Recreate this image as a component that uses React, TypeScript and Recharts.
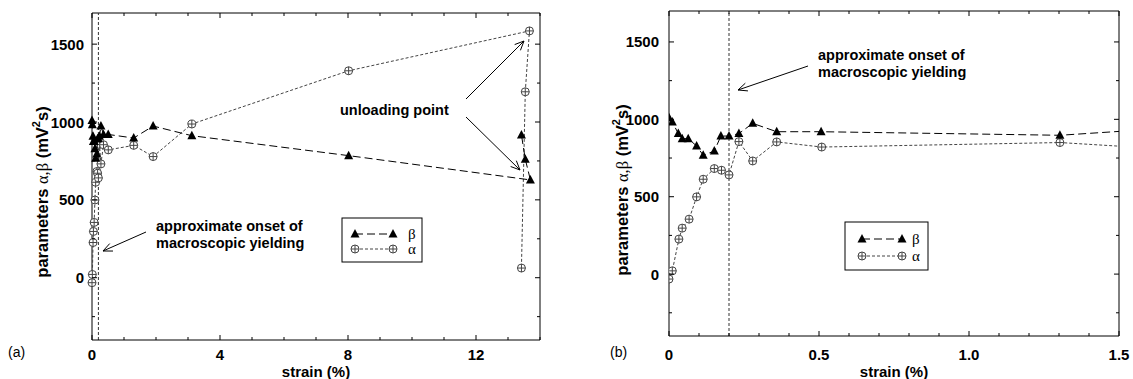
import React from 'react'
import { ScatterChart, Scatter, XAxis, YAxis, ReferenceLine } from 'recharts'

// beta (triangles) and alpha (crossed circles), in measurement order
const betaStrain = [0, 0.011, 0.031, 0.044, 0.064, 0.092, 0.114, 0.151, 0.173, 0.2, 0.233, 0.279, 0.359, 0.507, 1.303, 1.91, 3.12, 8.02, 13.7, 13.54, 13.42]
const betaValue = [1010, 983, 908, 875, 875, 828, 768, 795, 892, 892, 908, 974, 920, 920, 897, 974, 912, 784, 628, 761, 917]
const alphaStrain = [0, 0.011, 0.033, 0.044, 0.067, 0.092, 0.114, 0.151, 0.175, 0.2, 0.233, 0.279, 0.359, 0.509, 1.303, 1.91, 3.12, 8.02, 13.67, 13.54, 13.42]
const alphaValue = [-32, 21, 226, 297, 355, 499, 613, 682, 671, 641, 856, 731, 854, 821, 850, 778, 987, 1329, 1585, 1194, 62]

const yDomain = [-400, 1700]
const yTicks = [-250, 0, 250, 500, 750, 1000, 1250, 1500]
const yLabels = [0, 500, 1000, 1500]

const xTicksA = [0, 1, 2, 3, 4, 5, 6, 7, 8, 9, 10, 11, 12, 13, 14]
const xLabelsA = [0, 4, 8, 12]
const xTicksB = [0, 0.1, 0.2, 0.3, 0.4, 0.5, 0.6, 0.7, 0.8, 0.9, 1.0, 1.1, 1.2, 1.3, 1.4, 1.5]
const xLabelsB = [0, 0.5, 1.0, 1.5]
const onsetStrain = 0.2

const betaData = betaStrain.map((x, i) => ({ x, y: betaValue[i] }))
const alphaData = alphaStrain.map((x, i) => ({ x, y: alphaValue[i] }))

const SANS = '"Liberation Sans", Arial, sans-serif'
const SERIF = '"Liberation Serif", "Times New Roman", serif'

const Triangle = (p: any) => {
  const { cx, cy } = p
  if (cx == null || cy == null) return null
  return <polygon points={`${cx},${cy - 5} ${cx - 4.5},${cy + 3.5} ${cx + 4.5},${cy + 3.5}`} fill="#000" />
}

const CrossCircle = (p: any) => {
  const { cx, cy } = p
  if (cx == null || cy == null) return null
  return (
    <g>
      <circle cx={cx} cy={cy} r={4} fill="#fff" stroke="#444" strokeWidth={1} />
      <line x1={cx - 4} y1={cy} x2={cx + 4} y2={cy} stroke="#444" strokeWidth={1} />
      <line x1={cx} y1={cy - 4} x2={cx} y2={cy + 4} stroke="#444" strokeWidth={1} />
    </g>
  )
}

const isIn = (list: number[], v: number) => list.some((l) => Math.abs(l - v) < 1e-6)

const AXIS_W = 60
const AXIS_H = 30

interface PanelProps {
  left: number
  width: number
  plot: { top: number; right: number; bottom: number; left: number }
  xDomain: number[]
  xTicks: number[]
  xLabels: number[]
  fmt: (v: number) => string
  clip: boolean
  yLabelGap: number
  xLabelY: number
}

function Panel({ left, width, plot, xDomain, xTicks, xLabels, fmt, clip, yLabelGap, xLabelY }: PanelProps) {
  const height = 379
  const top = plot.top
  const bottom = height - plot.bottom
  const plotLeft = plot.left
  const plotRight = width - plot.right
  const margin = { top: plot.top, right: plot.right, bottom: plot.bottom - AXIS_H, left: plot.left - AXIS_W }

  const XTick = (p: any) => {
    const x = p.x
    const v = p.payload.value
    const major = isIn(xLabels, v)
    const len = major ? 5 : 3
    return (
      <g>
        <line x1={x} y1={bottom} x2={x} y2={bottom - len} stroke="#000" />
        <line x1={x} y1={top} x2={x} y2={top + len} stroke="#000" />
        {major && (
          <text x={x} y={xLabelY} textAnchor="middle" dominantBaseline="central" fontFamily={SANS} fontWeight="bold" fontSize={15} fill="#000">
            {fmt(v)}
          </text>
        )}
      </g>
    )
  }

  const YTick = (p: any) => {
    const y = p.y
    const v = p.payload.value
    const major = isIn(yLabels, v)
    const len = major ? 5 : 3
    return (
      <g>
        <line x1={plotLeft} y1={y} x2={plotLeft + len} y2={y} stroke="#000" />
        <line x1={plotRight} y1={y} x2={plotRight - len} y2={y} stroke="#000" />
        {major && (
          <text x={plotLeft - yLabelGap} y={y} textAnchor="end" dominantBaseline="central" fontFamily={SANS} fontWeight="bold" fontSize={15} fill="#000">
            {v}
          </text>
        )}
      </g>
    )
  }

  return (
    <div style={{ position: 'absolute', left, top: 0 }}>
      <ScatterChart width={width} height={height} margin={margin}>
        <XAxis
          type="number"
          dataKey="x"
          domain={xDomain}
          ticks={xTicks}
          interval={0}
          tick={XTick}
          tickLine={false}
          axisLine={{ stroke: '#000' }}
          height={AXIS_H}
          allowDataOverflow={clip}
        />
        <YAxis
          type="number"
          dataKey="y"
          domain={yDomain}
          ticks={yTicks}
          interval={0}
          tick={YTick}
          tickLine={false}
          axisLine={{ stroke: '#000' }}
          width={AXIS_W}
        />
        <ReferenceLine x={xDomain[1]} stroke="#000" />
        <ReferenceLine y={yDomain[1]} stroke="#000" />
        <ReferenceLine x={onsetStrain} stroke="#333" strokeDasharray="3 2" />
        <Scatter
          data={alphaData}
          shape={CrossCircle}
          line={{ stroke: '#444', strokeDasharray: '3 2', strokeWidth: 1 }}
          isAnimationActive={false}
        />
        <Scatter
          data={betaData}
          shape={Triangle}
          line={{ stroke: '#000', strokeDasharray: '8 4', strokeWidth: 1 }}
          isAnimationActive={false}
        />
      </ScatterChart>
    </div>
  )
}

function Arrow({ x1, y1, x2, y2 }: { x1: number; y1: number; x2: number; y2: number }) {
  const a = Math.atan2(y2 - y1, x2 - x1)
  const h = 10
  const s = 0.42
  return (
    <g stroke="#000" strokeWidth={1} fill="none">
      <line x1={x1} y1={y1} x2={x2} y2={y2} />
      <line x1={x2} y1={y2} x2={x2 - h * Math.cos(a - s)} y2={y2 - h * Math.sin(a - s)} />
      <line x1={x2} y1={y2} x2={x2 - h * Math.cos(a + s)} y2={y2 - h * Math.sin(a + s)} />
    </g>
  )
}

function YLabel({ x, y }: { x: number; y: number }) {
  return (
    <text transform={`translate(${x},${y}) rotate(-90)`} textAnchor="middle" fontFamily={SANS} fontWeight="bold" fontSize={16.5} fill="#000" dominantBaseline="central">
      parameters <tspan fontFamily={SERIF} fontWeight="normal">α,β</tspan> (mV
      <tspan dy={-6} fontSize={11}>2</tspan>
      <tspan dy={6}>s)</tspan>
    </text>
  )
}

function LegendBox({ x, y, w, h, lx1, lx2, tx, r1, r2 }: any) {
  return (
    <g>
      <rect x={x} y={y} width={w} height={h} fill="#fff" stroke="#000" strokeWidth={1} />
      <line x1={lx1} y1={r1} x2={lx2} y2={r1} stroke="#000" strokeDasharray="8 4" />
      <Triangle cx={lx1} cy={r1} />
      <Triangle cx={lx2} cy={r1} />
      <text x={tx} y={r1} dominantBaseline="central" fontFamily={SERIF} fontSize={15}>β</text>
      <line x1={lx1} y1={r2} x2={lx2} y2={r2} stroke="#444" strokeDasharray="3 2" />
      <CrossCircle cx={lx1} cy={r2} />
      <CrossCircle cx={lx2} cy={r2} />
      <text x={tx} y={r2} dominantBaseline="central" fontFamily={SERIF} fontSize={15}>α</text>
    </g>
  )
}

const boldText = { fontFamily: SANS, fontWeight: 'bold' as const, fontSize: 14.5, fill: '#000' }

export default function App() {
  return (
    <div style={{ position: 'absolute', left: 0, top: 0, width: 1133, height: 379, background: '#fff' }}>
      <Panel
        left={0}
        width={560}
        plot={{ top: 13, right: 20, bottom: 39, left: 92 }}
        xDomain={[0, 14]}
        xTicks={xTicksA}
        xLabels={xLabelsA}
        fmt={(v) => String(v)}
        clip={false}
        yLabelGap={8}
        xLabelY={354}
      />
      <Panel
        left={560}
        width={573}
        plot={{ top: 11, right: 14, bottom: 43, left: 109 }}
        xDomain={[0, 1.5]}
        xTicks={xTicksB}
        xLabels={xLabelsB}
        fmt={(v) => (v === 0 ? '0' : v.toFixed(1))}
        clip={true}
        yLabelGap={10}
        xLabelY={354}
      />
      <svg width={1133} height={379} style={{ position: 'absolute', left: 0, top: 0, pointerEvents: 'none' }}>
        <YLabel x={42} y={192} />
        <YLabel x={622} y={190} />
        <text x={316} y={371} textAnchor="middle" dominantBaseline="central" fontFamily={SANS} fontWeight="bold" fontSize={15}>strain (%)</text>
        <text x={894} y={371} textAnchor="middle" dominantBaseline="central" fontFamily={SANS} fontWeight="bold" fontSize={15}>strain (%)</text>
        <text x={8} y={352} dominantBaseline="central" fontFamily={SANS} fontSize={14}>(a)</text>
        <text x={610} y={352} dominantBaseline="central" fontFamily={SANS} fontSize={14}>(b)</text>

        <text x={340} y={110} dominantBaseline="central" {...boldText}>unloading point</text>
        <Arrow x1={466} y1={99} x2={524} y2={41} />
        <Arrow x1={466} y1={117} x2={520} y2={170} />

        <text x={156} y={226} dominantBaseline="central" {...boldText}>approximate onset of</text>
        <text x={156} y={243} dominantBaseline="central" {...boldText}>macroscopic yielding</text>
        <Arrow x1={146} y1={232} x2={103} y2={251} />

        <text x={818} y={55} dominantBaseline="central" {...boldText}>approximate onset of</text>
        <text x={818} y={72} dominantBaseline="central" {...boldText}>macroscopic yielding</text>
        <Arrow x1={808} y1={66} x2={738} y2={90} />

        <LegendBox x={342} y={218} w={80} h={44} lx1={355} lx2={393} tx={408} r1={234} r2={249} />
        <LegendBox x={845} y={222} w={83} h={48} lx1={862} lx2={902} tx={912} r1={239} r2={256} />
      </svg>
    </div>
  )
}
